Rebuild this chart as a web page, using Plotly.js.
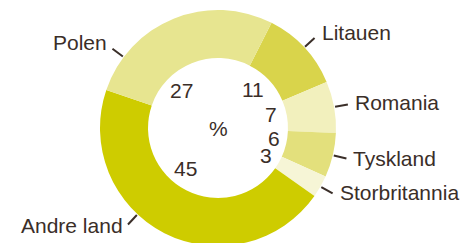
<!DOCTYPE html>
<html>
<head>
<meta charset="utf-8">
<script src="https://cdn.plot.ly/plotly-3.0.1.min.js"></script>
<style>
html,body{margin:0;padding:0;overflow:hidden;background:#fff;}
#chart{width:467px;height:256px;}
</style>
</head>
<body>
<div id="chart"></div>
<script>
// Data
const labels = ['Litauen', 'Romania', 'Tyskland', 'Storbritannia', 'Andre land', 'Polen'];
const values = [11, 7, 6, 3, 45, 27];
const centerText = '%';

// Styling
const colors = ['#d9d44b', '#f2f0bd', '#e3e07c', '#f6f5d6', '#cecc00', '#e7e590'];
const textColor = '#3a2e28';
const fontFamily = 'Liberation Sans, Arial, sans-serif';
const fontSize = 21;

// Layout geometry
const W = 467, H = 256, MT = 10, MB = 10;
const R = (H - MT - MB) / 2;
const CX = 218, CY = MT + R;
const rotation = 27;
const hole = 0.593;
// label placement tweaks (degrees / px) to avoid crowding
const numShift = [-4, -3.5, -3, 0, 12, -22];
const numRadius = [52, 55, 57, 55, 52, 52];
const lblShift = [0, 0, 0, 0, 16, -31];
const lblDy = [-5, -2, 0, -1, 1, -6];

const total = values.reduce((a, b) => a + b, 0);
let cum = 0;
const mids = values.map(v => { const m = rotation + (cum + v / 2) / total * 360; cum += v; return m; });

function px(r, deg) {
  const a = deg * Math.PI / 180;
  return [CX + r * Math.sin(a), CY - r * Math.cos(a)];
}
const toPaperX = x => x / W;
const toPaperY = y => (H - MB - y) / (H - MT - MB);

const annotations = [];
const shapes = [];
values.forEach((v, i) => {
  const [nx, ny] = px(numRadius[i], mids[i] + numShift[i]);
  annotations.push({x: toPaperX(nx), y: toPaperY(ny), xref: 'paper', yref: 'paper', text: String(v),
    showarrow: false, xanchor: 'center', yanchor: 'middle', borderpad: 0, font: {family: fontFamily, size: fontSize, color: textColor}});
  const ang = mids[i] + lblShift[i];
  const p1 = px(R + 1, ang), p2 = px(R + 14, ang);
  shapes.push({type: 'line', xref: 'paper', yref: 'paper', x0: toPaperX(p1[0]), y0: toPaperY(p1[1]),
    x1: toPaperX(p2[0]), y1: toPaperY(p2[1]), line: {color: textColor, width: 2}});
  const right = Math.sin(ang * Math.PI / 180) >= 0;
  const tx = p2[0] + (right ? 5 : -3);
  const ty = p2[1] + lblDy[i];
  annotations.push({x: toPaperX(tx), y: toPaperY(ty), xref: 'paper', yref: 'paper', text: labels[i],
    showarrow: false, xanchor: right ? 'left' : 'right', yanchor: 'middle', font: {family: fontFamily, size: fontSize, color: textColor}});
});
annotations.push({x: toPaperX(CX), y: toPaperY(CY), xref: 'paper', yref: 'paper', text: centerText,
  showarrow: false, xanchor: 'center', yanchor: 'middle', font: {family: fontFamily, size: fontSize, color: textColor}});

const trace = {
  type: 'pie', labels: labels, values: values, sort: false, direction: 'clockwise', rotation: rotation,
  hole: hole, textinfo: 'none', hoverinfo: 'none',
  marker: {colors: colors, line: {width: 0}},
  domain: {x: [(CX - R) / W, (CX + R) / W], y: [0, 1]}
};

Plotly.newPlot('chart', [trace], {
  width: W, height: H, margin: {l: 0, r: 0, t: MT, b: MB, pad: 0},
  showlegend: false, paper_bgcolor: '#fff', plot_bgcolor: '#fff',
  annotations: annotations, shapes: shapes
}, {staticPlot: true, displayModeBar: false});
</script>
</body>
</html>
